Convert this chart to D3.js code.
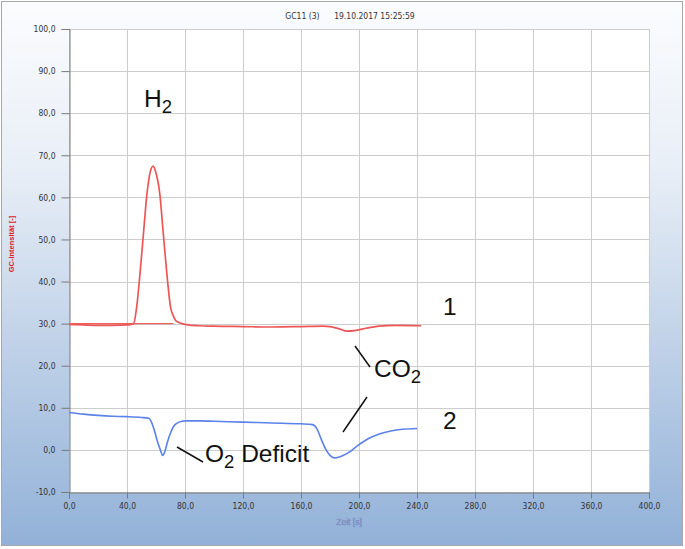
<!DOCTYPE html>
<html><head><meta charset="utf-8">
<script src="https://cdn.jsdelivr.net/npm/d3@7"></script>
<style>body{margin:0;background:#fff}svg{display:block}</style>
</head><body>
<script>
// ---- data ----
const xTicks = [0,40,80,120,160,200,240,280,320,360,400];
const yTicks = [-10,0,10,20,30,40,50,60,70,80,90,100];
const series1 = [ // red (curve 1)
 [0,29.8],[10,29.7],[20,29.6],[30,29.6],[40,29.7],[44.5,30.0],[46.7,34],[49,42],[51.5,52],[53.6,60.3],
 [56,66],[58,67.4],[60,65.8],[62.8,60.3],[64.5,53.5],[66.2,46.8],[68,40],[70,34],[72,31.8],[74,30.6],
 [78,30.0],[82,29.7],[90,29.5],[100,29.4],[120,29.3],[140,29.2],[160,29.3],[175,29.4],[180,29.3],
 [186,28.8],[192,28.2],[198,28.4],[205,28.9],[214,29.4],[225,29.6],[243,29.5]];
const series1Ref = [[0,30.0],[72,30.0]];
const series2 = [ // blue (curve 2)
 [0,8.9],[10,8.5],[20,8.2],[30,8.0],[40,7.9],[50,7.7],[55,7.5],[57,6.5],[59,4.5],[61,2],[63,0],
 [64.6,-1.3],[66,-0.5],[68,2],[70,4],[72,5.5],[74.3,6.3],[78,6.8],[81,6.9],[90,6.9],[100,6.8],
 [120,6.6],[140,6.4],[160,6.2],[168,6.0],[171,5.0],[174,2.5],[177,0.2],[180,-1.3],[183,-1.9],
 [187,-1.6],[193,-0.6],[199,1.0],[206,2.6],[214,3.8],[222,4.5],[230,4.9],[240,5.1]];
const title = "GC11 (3)      19.10.2017 15:25:59";
const yLabel = "GC-Intensität [-]";
const xLabel = "Zeit [s]";

// ---- layout ----
const W = 685, H = 549;
const m = {l:69, t:29, r:649, b:492};
const svg = d3.select("body").append("svg").attr("width",W).attr("height",H);
const defs = svg.append("defs");
const g = defs.append("linearGradient").attr("id","bg").attr("x1",0).attr("y1",0).attr("x2",0).attr("y2",1);
g.append("stop").attr("offset","0%").attr("stop-color","#fbfcfe");
g.append("stop").attr("offset","30%").attr("stop-color","#e9eff7");
g.append("stop").attr("offset","100%").attr("stop-color","#92b1d8");
svg.append("rect").attr("x",1.5).attr("y",1.5).attr("width",W-4).attr("height",H-5)
  .attr("fill","url(#bg)").attr("stroke","#a8a8a8");

const x = d3.scaleLinear().domain([0,400]).range([m.l,m.r]);
const y = d3.scaleLinear().domain([-10,100]).range([m.b,m.t]);

svg.append("rect").attr("x",m.l).attr("y",m.t).attr("width",m.r-m.l).attr("height",m.b-m.t).attr("fill","#fff");

// grid
svg.append("g").selectAll("line").data(yTicks).join("line")
  .attr("x1",m.l).attr("x2",m.r).attr("y1",d=>Math.round(y(d))+0.5).attr("y2",d=>Math.round(y(d))+0.5)
  .attr("stroke","#cdcdcd");
svg.append("g").selectAll("line").data(xTicks).join("line")
  .attr("y1",m.t).attr("y2",m.b).attr("x1",d=>Math.round(x(d))+0.5).attr("x2",d=>Math.round(x(d))+0.5)
  .attr("stroke","#cdcdcd");

// axes
const fmt = d => d3.format(".1f")(d).replace(".",",").replace("−","-");
const ya = svg.append("g").attr("transform",`translate(${m.l+0.5},0)`)
  .call(d3.axisLeft(y).tickValues(yTicks).tickFormat(fmt).tickSize(8).tickPadding(6));
const xa = svg.append("g").attr("transform",`translate(0,${m.b+0.5})`)
  .call(d3.axisBottom(x).tickValues(xTicks).tickFormat(fmt).tickSize(6).tickPadding(4));
[ya,xa].forEach(a=>{
  a.select(".domain").attr("stroke","#7a7a7a");
  a.selectAll(".tick line").attr("stroke","#7a7a7a");
  a.selectAll("text").attr("fill","#333").style("font-family","'DejaVu Sans Condensed','Liberation Sans',sans-serif").style("font-size","8.5px");
});

// lines
const line = d3.line().x(d=>x(d[0])).y(d=>y(d[1])).curve(d3.curveMonotoneX);
svg.append("path").datum(series1Ref).attr("d",line).attr("fill","none").attr("stroke","#f06060").attr("stroke-width",1.3);
svg.append("path").datum(series1).attr("d",line).attr("fill","none").attr("stroke","#ee5656").attr("stroke-width",1.7);
svg.append("path").datum(series2).attr("d",line).attr("fill","none").attr("stroke","#5b82ea").attr("stroke-width",1.6);

// title & axis labels
svg.append("text").attr("x",350).attr("y",19).attr("text-anchor","middle")
  .style("font-family","'DejaVu Sans Condensed','Liberation Sans',sans-serif").style("font-size","8.5px").attr("fill","#333")
  .attr("xml:space","preserve").text(title);
svg.append("text").attr("transform","translate(14,244) rotate(-90)").attr("text-anchor","middle")
  .style("font-family","'Liberation Sans',sans-serif").style("font-size","7.5px").style("font-weight","bold")
  .attr("fill","#e02020").text(yLabel);
svg.append("text").attr("x",349).attr("y",525).attr("text-anchor","middle")
  .style("font-family","'Liberation Sans',sans-serif").style("font-size","8.5px")
  .attr("fill","#6070a8").attr("stroke","#8a9acb").attr("stroke-width",0.4).text(xLabel);

// annotations
const af = "'Liberation Sans',Arial,sans-serif";
function sub(px,py,main,subs,after){
  const t = svg.append("text").attr("x",px).attr("y",py).style("font-family",af).style("font-size","24.5px").attr("fill","#111");
  t.append("tspan").text(main);
  t.append("tspan").attr("dy",6).style("font-size","18.5px").text(subs);
  if(after) t.append("tspan").attr("dy",-6).text(after);
}
sub(144,107,"H","2");
sub(374,377,"CO","2");
sub(205,462,"O","2"," Deficit");
svg.append("text").attr("x",443).attr("y",315).style("font-family",af).style("font-size","24.5px").attr("fill","#111").text("1");
svg.append("text").attr("x",443).attr("y",429).style("font-family",af).style("font-size","24.5px").attr("fill","#111").text("2");
const leaders = [[355,346,370,367],[343,432,367,397],[177,447,203,462]];
svg.append("g").selectAll("line").data(leaders).join("line")
  .attr("x1",d=>d[0]).attr("y1",d=>d[1]).attr("x2",d=>d[2]).attr("y2",d=>d[3])
  .attr("stroke","#111").attr("stroke-width",1.5);
</script>
</body></html>
